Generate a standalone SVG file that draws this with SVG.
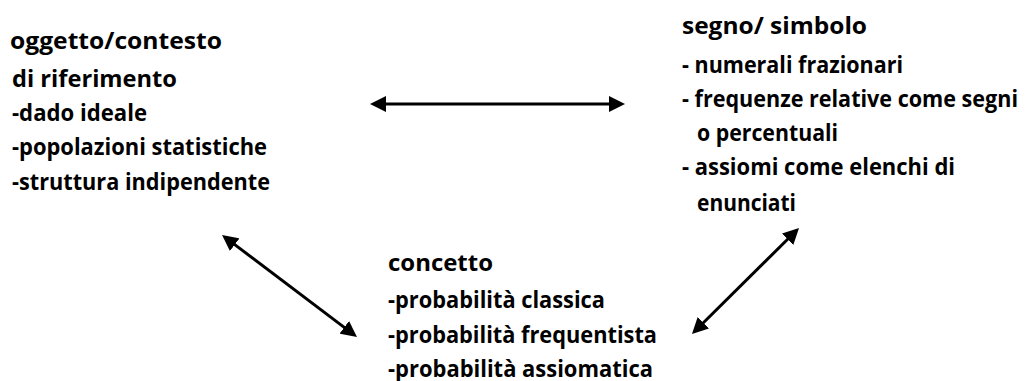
<svg xmlns="http://www.w3.org/2000/svg" width="1028" height="381" viewBox="0 0 1028 381">
<style>
text{font-family:"Open Sans","Liberation Sans",sans-serif;font-weight:bold;font-size:24px;fill:#000}
.conn{stroke:#000;stroke-width:3;fill:none;marker-start:url(#ah);marker-end:url(#ah)}
</style>
<defs>
<marker id="ah" viewBox="0 0 16 16" refX="12" refY="8" markerWidth="16" markerHeight="16" markerUnits="userSpaceOnUse" orient="auto-start-reverse">
<path d="M0,0 L16,8 L0,16 z" fill="#000"/>
</marker>
</defs>
<rect width="1028" height="381" fill="#fff"/>
<g id="oggetto">
<text x="10" y="49" textLength="212" lengthAdjust="spacingAndGlyphs">oggetto/contesto</text>
<text x="12" y="87" textLength="165" lengthAdjust="spacingAndGlyphs">di riferimento</text>
<text x="12" y="121" textLength="135" lengthAdjust="spacingAndGlyphs">-dado ideale</text>
<text x="12" y="155" textLength="255" lengthAdjust="spacingAndGlyphs">-popolazioni statistiche</text>
<text x="12" y="190" textLength="258" lengthAdjust="spacingAndGlyphs">-struttura indipendente</text>
</g>
<g id="segno">
<text x="682" y="34" textLength="185" lengthAdjust="spacingAndGlyphs">segno/ simbolo</text>
<text x="682" y="73" textLength="221" lengthAdjust="spacingAndGlyphs">- numerali frazionari</text>
<text x="682" y="107" textLength="336" lengthAdjust="spacingAndGlyphs">- frequenze relative come segni</text>
<text x="697" y="141" textLength="141" lengthAdjust="spacingAndGlyphs">o percentuali</text>
<text x="682" y="175" textLength="273" lengthAdjust="spacingAndGlyphs">- assiomi come elenchi di</text>
<text x="697" y="211" textLength="99" lengthAdjust="spacingAndGlyphs">enunciati</text>
</g>
<g id="concetto">
<text x="388" y="271" textLength="105" lengthAdjust="spacingAndGlyphs">concetto</text>
<text x="388" y="308" textLength="217" lengthAdjust="spacingAndGlyphs">-probabilità classica</text>
<text x="388" y="343" textLength="269" lengthAdjust="spacingAndGlyphs">-probabilità frequentista</text>
<text x="388" y="377" textLength="265" lengthAdjust="spacingAndGlyphs">-probabilità assiomatica</text>
</g>
<g id="connectors">
<line class="conn" x1="374" y1="104" x2="621" y2="104"/>
<line class="conn" x1="225.2" y1="237.4" x2="353.8" y2="334.6"/>
<line class="conn" x1="796.2" y1="230.8" x2="694.8" y2="331.2"/>
</g>
</svg>
